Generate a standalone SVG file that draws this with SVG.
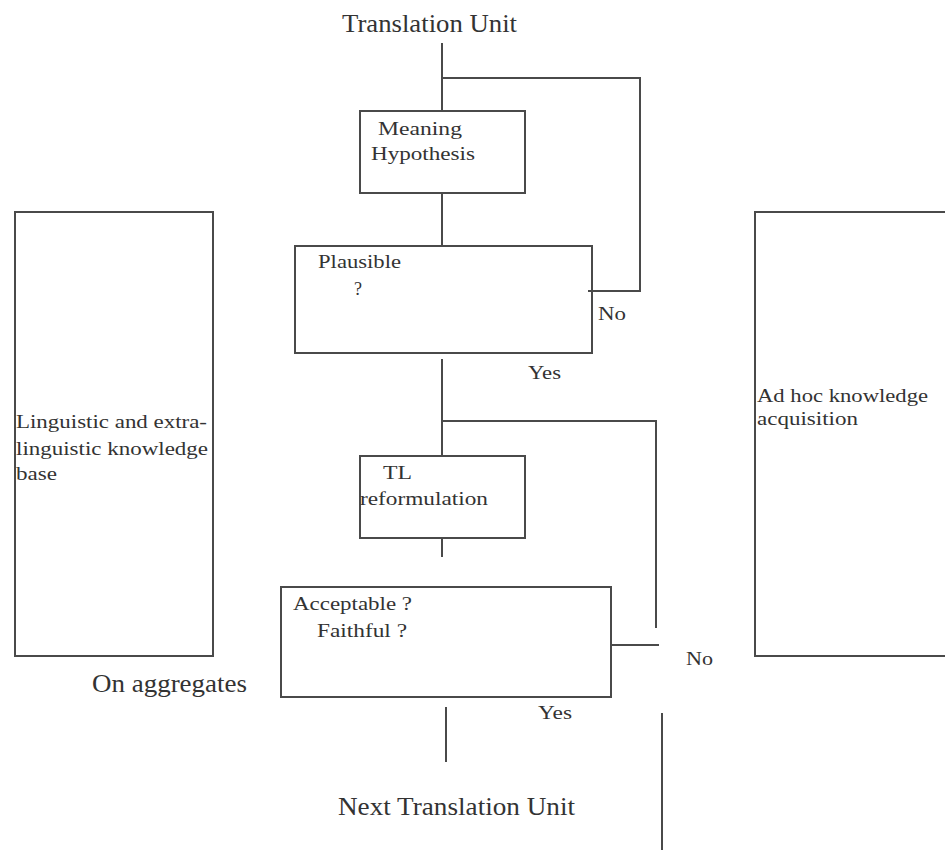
<svg xmlns="http://www.w3.org/2000/svg" width="945" height="850" viewBox="0 0 945 850">
<style>
.box{fill:none;stroke:#4a4a4a;stroke-width:2}
.ln{fill:none;stroke:#4a4a4a;stroke-width:2}
.t{font-family:"Liberation Serif","DejaVu Serif",serif;fill:#333;font-size:18px}
.big{font-size:25px}
</style>
<rect width="945" height="850" fill="#fff"/>
<g id="connectors">
<path class="ln" d="M442,43 V111 M442,78 H640 V291 H588"/>
<path class="ln" d="M442,193 V246"/>
<path class="ln" d="M442,359 V456 M442,421 H656 V628"/>
<path class="ln" d="M442,538 V557"/>
<path class="ln" d="M611,645 H659"/>
<path class="ln" d="M446,707 V762"/>
<path class="ln" d="M662,713 V850"/>
</g>
<g id="translation-unit">
<text class="t big" x="342" y="32" textLength="175" lengthAdjust="spacingAndGlyphs">Translation Unit</text>
</g>
<g id="meaning-hypothesis">
<rect class="box" x="360" y="111" width="165" height="82"/>
<text class="t" x="378" y="135" textLength="84" lengthAdjust="spacingAndGlyphs">Meaning</text>
<text class="t" x="371" y="160" textLength="104" lengthAdjust="spacingAndGlyphs">Hypothesis</text>
</g>
<g id="plausible">
<rect class="box" x="295" y="246" width="297" height="107"/>
<text class="t" x="318" y="268" textLength="83" lengthAdjust="spacingAndGlyphs">Plausible</text>
<text class="t" x="354" y="295">?</text>
</g>
<g id="label-no-1"><text class="t" x="598" y="320" textLength="28" lengthAdjust="spacingAndGlyphs">No</text></g>
<g id="label-yes-1"><text class="t" x="528" y="379" textLength="33" lengthAdjust="spacingAndGlyphs">Yes</text></g>
<g id="tl-reformulation">
<rect class="box" x="360" y="456" width="165" height="82"/>
<text class="t" x="383" y="479" textLength="29" lengthAdjust="spacingAndGlyphs">TL</text>
<text class="t" x="360" y="505" textLength="128" lengthAdjust="spacingAndGlyphs">reformulation</text>
</g>
<g id="acceptable">
<rect class="box" x="281" y="587" width="330" height="110"/>
<text class="t" x="293" y="610" textLength="119" lengthAdjust="spacingAndGlyphs">Acceptable ?</text>
<text class="t" x="317" y="637" textLength="90" lengthAdjust="spacingAndGlyphs">Faithful ?</text>
</g>
<g id="label-no-2"><text class="t" x="686" y="665" textLength="27" lengthAdjust="spacingAndGlyphs">No</text></g>
<g id="label-yes-2"><text class="t" x="538" y="719" textLength="34" lengthAdjust="spacingAndGlyphs">Yes</text></g>
<g id="next-translation-unit">
<text class="t big" x="338" y="815" textLength="237" lengthAdjust="spacingAndGlyphs">Next Translation Unit</text>
</g>
<g id="knowledge-base">
<rect class="box" x="15" y="212" width="198" height="444"/>
<text class="t" x="16" y="428" textLength="191" lengthAdjust="spacingAndGlyphs">Linguistic and extra-</text>
<text class="t" x="16" y="455" textLength="192" lengthAdjust="spacingAndGlyphs">linguistic knowledge</text>
<text class="t" x="16" y="480" textLength="41" lengthAdjust="spacingAndGlyphs">base</text>
</g>
<g id="on-aggregates">
<text class="t big" x="92" y="692" textLength="155" lengthAdjust="spacingAndGlyphs">On aggregates</text>
</g>
<g id="ad-hoc">
<rect class="box" x="755" y="212" width="200" height="444"/>
<text class="t" x="757" y="402" textLength="171" lengthAdjust="spacingAndGlyphs">Ad hoc knowledge</text>
<text class="t" x="757" y="425" textLength="101" lengthAdjust="spacingAndGlyphs">acquisition</text>
</g>
</svg>
